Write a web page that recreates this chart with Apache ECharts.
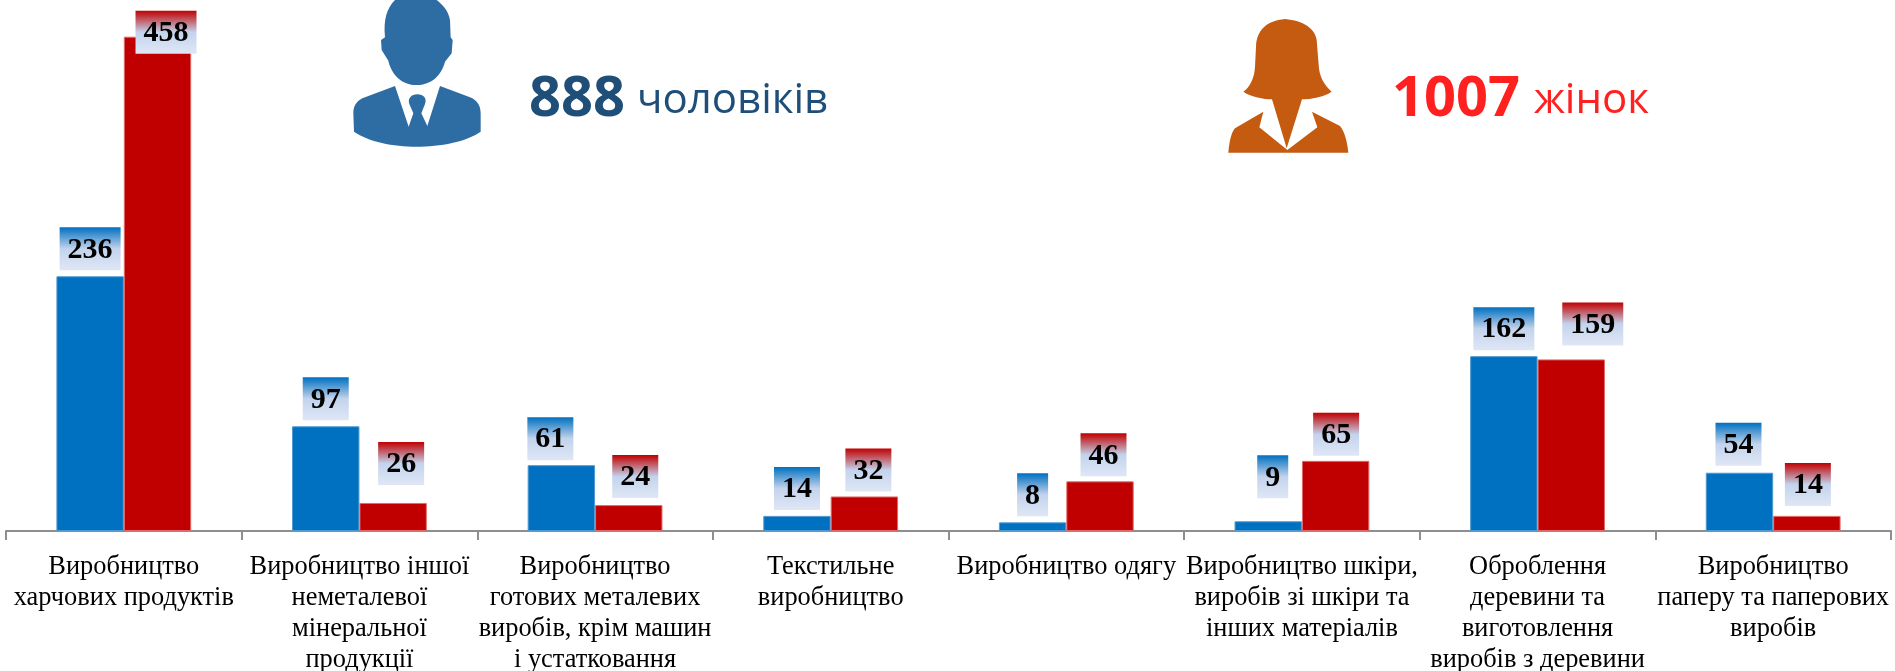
<!DOCTYPE html>
<html>
<head>
<meta charset="utf-8">
<title>Виробництво</title>
<style>
    html, body { margin: 0; padding: 0; background: #fff; }
    #main { width: 1895px; height: 671px; }
</style>
<script src="https://cdn.jsdelivr.net/npm/echarts@6/dist/echarts.min.js"></script>
</head>
<body>
<div id="main"></div>
<script>
var categories = [
    'Виробництво\nхарчових продуктів',
    'Виробництво іншої\nнеметалевої\nмінеральної\nпродукції',
    'Виробництво\nготових металевих\nвиробів, крім машин\nі устатковання',
    'Текстильне\nвиробництво',
    'Виробництво одягу',
    'Виробництво шкіри,\nвиробів зі шкіри та\nінших матеріалів',
    'Оброблення\nдеревини та\nвиготовлення\nвиробів з деревини',
    'Виробництво\nпаперу та паперових\nвиробів'
];
var menValues = [236, 97, 61, 14, 8, 9, 162, 54];
var womenValues = [458, 26, 24, 32, 46, 65, 159, 14];
var menTotal = '888';
var menWord = 'чоловіків';
var womenTotal = '1007';
var womenWord = 'жінок';

// hand placed label shifts, the source chart moved these by hand too
var menLabelShift = [[0, 0], [0, 0], [-11, 1], [0, 0], [0, 0], [4.5, -17], [0, 0], [-1, -1]];
var womenLabelShift = [[8.5, 23], [8, -12], [6.5, -1], [4, 1], [3.5, 1], [0.5, 1], [21.5, -8], [1, -4]];

var MAN_HEAD = 'M1185 0L1310 0C1325 12 1345 30 1350 60L1352 112L1358 120L1355 160L1335 185'
    + 'C1325 225 1295 255 1250 255C1205 255 1175 225 1165 182L1145 150L1143 120L1155 112'
    + 'C1150 60 1160 25 1185 0Z';
var MAN_BODY = 'M1185 258L1226 380L1240 340L1228 312C1222 295 1235 283 1252 283C1270 283 1282 295 1275 312'
    + 'L1264 340L1282 378L1320 258L1410 292C1430 300 1442 315 1442 340L1442 395'
    + 'C1400 425 1320 440 1250 440C1180 440 1105 425 1062 395L1060 340C1060 315 1072 300 1095 292Z';
var WOMAN_HEAD = 'M255 57C200 62 170 90 168 140L165 200C163 235 150 260 130 275C155 292 190 297 216 298'
    + 'L260 445L306 298C335 297 370 292 395 275C372 255 358 230 356 195L350 120C345 85 310 62 255 57Z';
var WOMAN_BODY = 'M190 335L178 382L262 450L352 382L336 335L420 378C435 395 442 430 445 458L85 458'
    + 'C88 430 92 400 105 385Z';

echarts.graphic.registerShape('manHead', echarts.graphic.extendPath(MAN_HEAD, {}));
echarts.graphic.registerShape('manBody', echarts.graphic.extendPath(MAN_BODY, {}));
echarts.graphic.registerShape('womanHead', echarts.graphic.extendPath(WOMAN_HEAD, {}));
echarts.graphic.registerShape('womanBody', echarts.graphic.extendPath(WOMAN_BODY, {}));

/**
 * gradient behind a value label, from the bar colour down to pale blue
 *
 * @param  {string} color top colour
 * @return {Object} linear gradient
 */
function labelGradient(color) {
    return new echarts.graphic.LinearGradient(0, 0, 0, 1, [
        {offset: 0, color: color},
        {offset: 0.5, color: '#c3d3ec'},
        {offset: 1, color: '#dfe7f6'}
    ]);
}

/**
 * build series data with the label shift of every point
 *
 * @param  {number[]} values series values
 * @param  {number[][]} shifts label shifts
 * @return {Object[]} data items
 */
function buildData(values, shifts) {
    var data = [];
    for (var i = 0; i < values.length; ++i) {
        data.push({
            value: values[i],
            label: {offset: shifts[i]}
        });
    }
    return data;
}

function barSeries(name, values, shifts, color, edge) {
    return {
        type: 'bar',
        name: name,
        barWidth: 67.4,
        barGap: 0,
        silent: true,
        data: buildData(values, shifts),
        itemStyle: {
            color: color,
            borderColor: edge,
            borderWidth: 1
        },
        label: {
            show: true,
            position: 'top',
            distance: 6,
            fontFamily: 'Liberation Serif',
            fontWeight: 'bold',
            fontSize: 30,
            color: '#000',
            lineHeight: 41,
            padding: [2, 8, 0, 8],
            backgroundColor: labelGradient(color)
        }
    };
}

function iconPath(shapeName, x, color) {
    return {
        type: shapeName,
        x: x,
        y: 0,
        scaleX: 1 / 3,
        scaleY: 1 / 3,
        style: {fill: color},
        silent: true
    };
}

function bigText(text, x, y, size, weight, color) {
    return {
        type: 'text',
        x: x,
        y: y,
        silent: true,
        style: {
            text: text,
            fill: color,
            font: weight + ' ' + size + 'px "Open Sans"',
            verticalAlign: 'middle'
        }
    };
}

var chart = echarts.init(document.getElementById('main'), null, {renderer: 'canvas'});
chart.setOption({
    animation: false,
    backgroundColor: '#fff',
    grid: {left: 6, right: 4, top: 0, bottom: 140, outerBoundsMode: 'none'},
    xAxis: {
        type: 'category',
        data: categories,
        axisLine: {lineStyle: {color: '#8e8e8e', width: 2}},
        axisTick: {show: true, length: 9, lineStyle: {color: '#8e8e8e', width: 2}},
        axisLabel: {
            interval: 0,
            margin: 21,
            fontFamily: 'Liberation Serif',
            fontSize: 26.4,
            lineHeight: 31,
            color: '#000'
        }
    },
    yAxis: {
        type: 'value',
        min: 0,
        max: 492,
        show: false,
        splitLine: {show: false}
    },
    series: [
        barSeries('чоловіків', menValues, menLabelShift, '#0070c0', '#4f9ad2'),
        barSeries('жінок', womenValues, womenLabelShift, '#c00000', '#e06a6a')
    ],
    graphic: [
        iconPath('manHead', 0, '#2e6da4'),
        iconPath('manBody', 0, '#2e6da4'),
        iconPath('womanHead', 1200, '#c55a11'),
        iconPath('womanBody', 1200, '#c55a11'),
        bigText(menTotal, 529, 100, 56, 'bold', '#1f4e79'),
        bigText(menWord, 637, 101, 42, 'normal', '#1f4e79'),
        bigText(womenTotal, 1392, 100, 56, 'bold', '#ff2020'),
        bigText(womenWord, 1534, 101, 42, 'normal', '#ff2020')
    ]
});
</script>
</body>
</html>
